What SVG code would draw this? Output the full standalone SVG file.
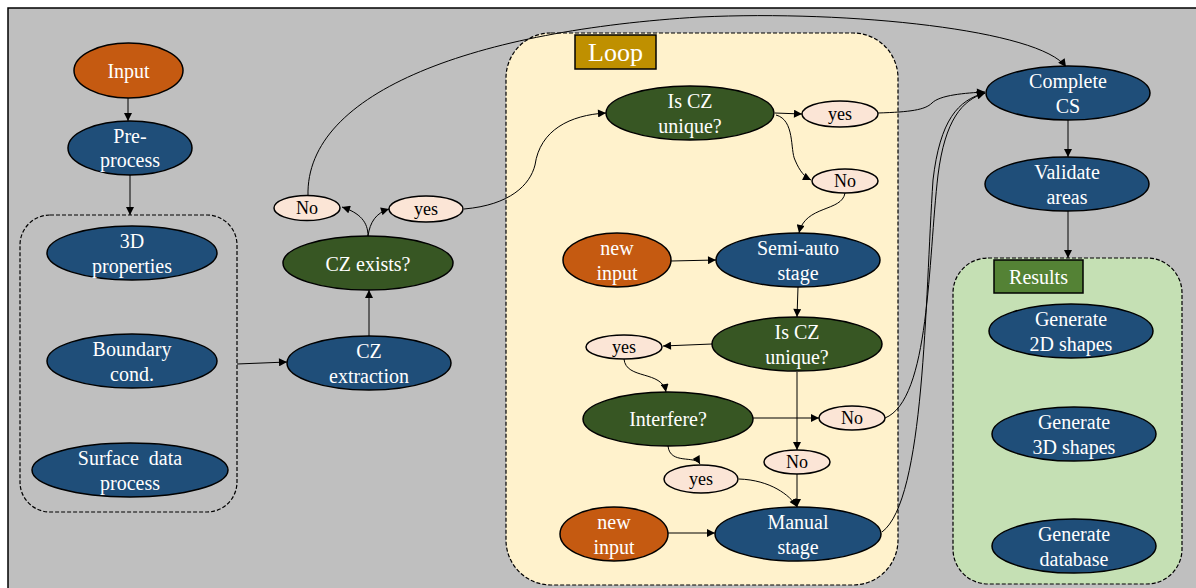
<svg xmlns="http://www.w3.org/2000/svg" width="1196" height="588" viewBox="0 0 1196 588">
<defs>
<marker id="a" viewBox="0 0 10 10" refX="10" refY="5" markerWidth="10" markerHeight="8" markerUnits="userSpaceOnUse" orient="auto"><path d="M0,0 L10,5 L0,10 z" fill="#000"/></marker>
<style>
text{font-family:"Liberation Serif","Times New Roman",serif;text-anchor:middle}
.t{font-size:20px;fill:#fff}
.s{font-size:18px;fill:#000}
.e{stroke:#000;stroke-width:1.5}
.blue{fill:#1F4E79}
.org{fill:#C55A11}
.grn{fill:#375623}
.pale{fill:#FBE5D6}
.box{stroke:#000;stroke-width:1.2;stroke-dasharray:4 2}
#edges path{fill:none;stroke:#000;stroke-width:1;marker-end:url(#a)}
</style>
</defs>
<rect x="8" y="8" width="1200" height="600" fill="#BFBFBF" stroke="#000" stroke-width="1.5"/>
<g id="group-left"><rect class="box" x="20" y="215" width="217" height="297" rx="30" fill="none"/></g>
<g id="group-loop"><rect class="box" x="506" y="33" width="392" height="552" rx="45" fill="#FFF2CC"/>
<rect x="575" y="35" width="81" height="34" fill="#BF9000" stroke="#000" stroke-width="1.5"/>
<text x="615.5" y="61" style="font-size:26px;fill:#fff">Loop</text></g>
<g id="group-results"><rect class="box" x="953" y="258" width="229" height="326" rx="35" fill="#C5E0B4"/>
<rect x="994" y="260" width="89" height="33" fill="#548235" stroke="#000" stroke-width="1.5"/>
<text x="1038.5" y="284" class="t">Results</text></g>

<g id="edges">
<path d="M128,98 L128,121"/>
<path d="M130,175 L130,215"/>
<path d="M237,364 L287,362"/>
<path d="M369,336 L369,290"/>
<path d="M368,236 C368,222 360,213 342,207"/>
<path d="M368,236 C370,222 376,213 389,209"/>
<path d="M464,209 C510,205 530,185 535,165 C540,130 570,115 606,113"/>
<path d="M775,113 L802,114"/>
<path d="M776,115 C795,120 790,150 795,160 C800,172 805,177 811,180"/>
<path d="M845,193 C842,212 805,205 799,233"/>
<path d="M671,261 L716,260"/>
<path d="M798,287 L797,317"/>
<path d="M712,344 L663,346"/>
<path d="M624,359 C626,380 662,370 666,392"/>
<path d="M753,418 L819,418"/>
<path d="M797,372 L797,450"/>
<path d="M668,446 C670,465 695,455 700,464"/>
<path d="M797,474 L797,507"/>
<path d="M739,479 C770,480 790,495 797,507"/>
<path d="M668,533 L715,533"/>
<path d="M885,418 C930,400 928,260 938,175 C945,120 962,100 985,93"/>
<path d="M882,532 C925,500 925,300 933,180 C940,120 958,100 985,93"/>
<path d="M878,113 C910,112 925,110 932,103 C940,95 965,93 985,92"/>
<path d="M308,196 C305,90 480,30 700,17 C850,10 1040,30 1066,67"/>
<path d="M1068,120 L1068,157"/>
<path d="M1068,210 L1068,258"/>
</g>

<g id="input"><ellipse class="e org" cx="128.5" cy="70.5" rx="54.5" ry="27.5"/><text class="t" x="128.5" y="78">Input</text></g>
<g id="preprocess"><ellipse class="e blue" cx="130" cy="148" rx="62" ry="27"/><text class="t" x="130" y="143">Pre-</text><text class="t" x="130" y="167">process</text></g>
<g id="props3d"><ellipse class="e blue" cx="132" cy="253" rx="85" ry="27"/><text class="t" x="132" y="248">3D</text><text class="t" x="132" y="273">properties</text></g>
<g id="boundary"><ellipse class="e blue" cx="132" cy="361" rx="85" ry="27"/><text class="t" x="132" y="356">Boundary</text><text class="t" x="132" y="381">cond.</text></g>
<g id="surface"><ellipse class="e blue" cx="130" cy="470" rx="98" ry="27"/><text class="t" x="130" y="465" word-spacing="5">Surface data</text><text class="t" x="130" y="490">process</text></g>
<g id="czextract"><ellipse class="e blue" cx="369" cy="363" rx="82" ry="27"/><text class="t" x="369" y="358">CZ</text><text class="t" x="369" y="383">extraction</text></g>
<g id="czexists"><ellipse class="e grn" cx="368" cy="263" rx="85" ry="27"/><text class="t" x="368" y="271">CZ exists?</text></g>
<g id="no1"><ellipse class="e pale" cx="307" cy="208" rx="33" ry="12.5"/><text class="s" x="307" y="214">No</text></g>
<g id="yes1"><ellipse class="e pale" cx="426" cy="209" rx="37" ry="13"/><text class="s" x="426" y="215">yes</text></g>
<g id="unique1"><ellipse class="e grn" cx="690" cy="113" rx="84" ry="27"/><text class="t" x="690" y="108">Is CZ</text><text class="t" x="690" y="133">unique?</text></g>
<g id="yes2"><ellipse class="e pale" cx="840" cy="114" rx="38" ry="13"/><text class="s" x="840" y="120">yes</text></g>
<g id="no2"><ellipse class="e pale" cx="845" cy="181" rx="33" ry="12"/><text class="s" x="845" y="187">No</text></g>
<g id="newinput1"><ellipse class="e org" cx="617" cy="260" rx="54" ry="27"/><text class="t" x="617" y="255">new</text><text class="t" x="617" y="280">input</text></g>
<g id="semiauto"><ellipse class="e blue" cx="798" cy="260" rx="82" ry="27"/><text class="t" x="798" y="255">Semi-auto</text><text class="t" x="798" y="280">stage</text></g>
<g id="unique2"><ellipse class="e grn" cx="797" cy="344" rx="85" ry="27"/><text class="t" x="797" y="339">Is CZ</text><text class="t" x="797" y="364">unique?</text></g>
<g id="yes3"><ellipse class="e pale" cx="624" cy="347" rx="38" ry="12"/><text class="s" x="624" y="353">yes</text></g>
<g id="interfere"><ellipse class="e grn" cx="668" cy="419" rx="85" ry="27"/><text class="t" x="668" y="426">Interfere?</text></g>
<g id="no3"><ellipse class="e pale" cx="852" cy="418" rx="33" ry="12"/><text class="s" x="852" y="424">No</text></g>
<g id="no4"><ellipse class="e pale" cx="797" cy="462" rx="33" ry="12"/><text class="s" x="797" y="468">No</text></g>
<g id="yes4"><ellipse class="e pale" cx="701" cy="479" rx="37" ry="14"/><text class="s" x="701" y="485">yes</text></g>
<g id="newinput2"><ellipse class="e org" cx="614" cy="534" rx="54" ry="27"/><text class="t" x="614" y="529">new</text><text class="t" x="614" y="554">input</text></g>
<g id="manual"><ellipse class="e blue" cx="798" cy="534" rx="83" ry="27"/><text class="t" x="798" y="529">Manual</text><text class="t" x="798" y="554">stage</text></g>
<g id="completecs"><ellipse class="e blue" cx="1068" cy="93" rx="82" ry="27"/><text class="t" x="1068" y="88">Complete</text><text class="t" x="1068" y="113">CS</text></g>
<g id="validate"><ellipse class="e blue" cx="1067" cy="184" rx="82" ry="27"/><text class="t" x="1067" y="179">Validate</text><text class="t" x="1067" y="204">areas</text></g>
<g id="gen2d"><ellipse class="e blue" cx="1071" cy="331" rx="82" ry="27"/><text class="t" x="1071" y="326">Generate</text><text class="t" x="1071" y="351">2D shapes</text></g>
<g id="gen3d"><ellipse class="e blue" cx="1074" cy="434" rx="82" ry="27"/><text class="t" x="1074" y="429">Generate</text><text class="t" x="1074" y="454">3D shapes</text></g>
<g id="gendb"><ellipse class="e blue" cx="1074" cy="546" rx="82" ry="27"/><text class="t" x="1074" y="541">Generate</text><text class="t" x="1074" y="566">database</text></g>
</svg>
